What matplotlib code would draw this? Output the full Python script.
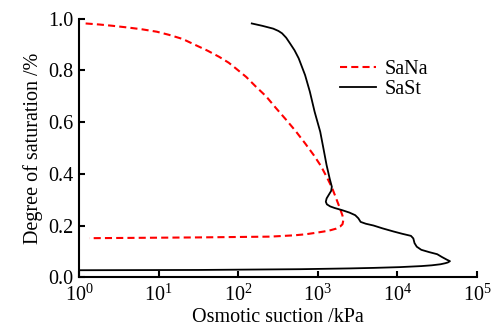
import matplotlib
matplotlib.use("Agg")
import matplotlib.pyplot as plt
from matplotlib.ticker import LogLocator, NullLocator

plt.rcParams["font.family"] = ["Liberation Serif", "DejaVu Serif"]
plt.rcParams["mathtext.fontset"] = "custom"
plt.rcParams["mathtext.rm"] = "Liberation Serif"
plt.rcParams["mathtext.it"] = "Liberation Serif:italic"

# SaNa: drying branch from saturation down, then back along the lower branch
sana_suction = [1.21, 1.8, 2.63, 4.2, 6.3, 9.5, 13.5, 20.0, 28.8, 41.0,
                57.5, 76.0, 93.3, 126, 166, 224, 295, 398, 525, 692, 891,
                1096, 1318, 1514, 1698, 1905, 2042, 2089, 2042, 1905, 1700,
                1450, 1200, 950, 700, 500, 251, 31.6, 1.35]
sana_sat = [0.982, 0.978, 0.973, 0.966, 0.959, 0.950, 0.938, 0.922, 0.899,
            0.877, 0.853, 0.830, 0.808, 0.775, 0.738, 0.700, 0.656, 0.610,
            0.566, 0.518, 0.472, 0.430, 0.383, 0.345, 0.305, 0.265, 0.238,
            0.220, 0.205, 0.196, 0.188, 0.182, 0.177, 0.172, 0.166, 0.162,
            0.157, 0.154, 0.151]

# SaSt
sast_suction = [148, 200, 275, 320, 355, 400, 447, 510, 575, 692, 794, 912,
                1000, 1072, 1175, 1288, 1413, 1500, 1470, 1380, 1290, 1260,
                1300, 1430, 1620, 1995, 2500, 2950, 3230, 3450, 4000, 5012,
                6500, 8913, 11500, 14791, 15849, 16400, 17500, 19953, 25119,
                31623, 36308, 41687, 45709, 43000, 39811, 34674, 27000,
                19953, 10715, 5000, 2512, 603, 31.6, 1.0]
sast_sat = [0.982, 0.973, 0.962, 0.953, 0.944, 0.927, 0.905, 0.878, 0.847,
            0.782, 0.718, 0.640, 0.596, 0.563, 0.499, 0.434, 0.380, 0.350,
            0.334, 0.320, 0.305, 0.292, 0.282, 0.274, 0.268, 0.260, 0.250,
            0.240, 0.228, 0.214, 0.207, 0.200, 0.189, 0.177, 0.168, 0.160,
            0.150, 0.132, 0.118, 0.106, 0.097, 0.089, 0.078, 0.068, 0.062,
            0.057, 0.054, 0.050, 0.046, 0.043, 0.039, 0.036, 0.034, 0.031,
            0.028, 0.027]

y_ticks = [0.0, 0.2, 0.4, 0.6, 0.8, 1.0]
y_ticklabels = ["0.0", "0.2", "0.4", "0.6", "0.8", "1.0"]

fig = plt.figure(figsize=(4.91, 3.36), dpi=100)
ax = fig.add_axes([0.161, 0.175, 0.8105, 0.769])

ax.plot(sana_suction, sana_sat, color="#ff0000", lw=1.5,
        linestyle=(0, (3.4, 2.0)), label="SaNa")
ax.plot(sast_suction, sast_sat, color="black", lw=1.3, label="SaSt")

ax.set_xscale("log")
ax.set_xlim(1, 1e5)
ax.set_ylim(0, 1.0)
ax.xaxis.set_major_locator(LogLocator(base=10, numticks=10))
ax.xaxis.set_minor_locator(NullLocator())
ax.set_yticks(y_ticks)
ax.set_yticklabels(y_ticklabels)

for side in ("top", "right"):
    ax.spines[side].set_visible(False)
for side in ("left", "bottom"):
    ax.spines[side].set_linewidth(1.5)

ax.tick_params(axis="both", direction="in", length=4.5, width=1.5,
               labelsize=14.5, colors="black")
ax.tick_params(axis="x", pad=5)
ax.tick_params(axis="y", pad=4)

ax.set_xlabel("Osmotic suction /kPa", fontsize=14.5, labelpad=2)
ax.set_ylabel("Degree of saturation /%", fontsize=14.5, labelpad=4)

ax.legend(loc="upper left", bbox_to_anchor=(0.62, 0.897), frameon=False,
          fontsize=14.5, handlelength=1.8, handletextpad=0.4,
          labelspacing=0.05, borderpad=0.2)

fig.savefig("out.png", dpi=100)
